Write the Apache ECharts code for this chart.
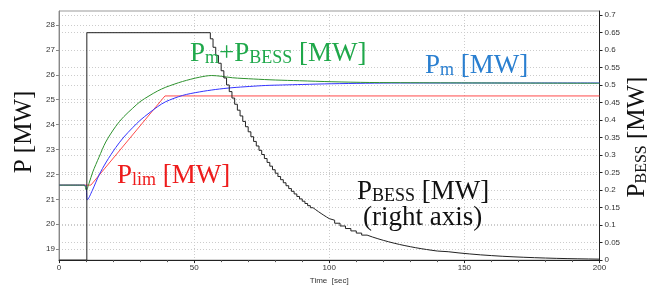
<!DOCTYPE html>
<html>
<head>
<meta charset="utf-8">
<script src="https://cdn.jsdelivr.net/npm/echarts@6/dist/echarts.min.js"></script>
<style>
  html, body { margin: 0; padding: 0; background: #fff; }
  #chart { width: 647px; height: 290px; }
</style>
</head>
<body>
<div id="chart"></div>
<script>
// values: [time s, value]
const pLim = [[0, 21.57], [11.8, 21.57], [39.2, 25.15], [200, 25.15]];

const pM = [
  [0, 21.57], [9.6, 21.57], [10.5, 20.98], [12.3, 21.35], [14.8, 21.97], [17.5, 22.5],
  [21, 23.08], [24, 23.5], [27.2, 23.87], [30, 24.17], [33.3, 24.46], [36.5, 24.72],
  [39.5, 24.92], [45.7, 25.17], [51.9, 25.31], [58, 25.41], [64, 25.48], [70.4, 25.53],
  [76.5, 25.57], [82.7, 25.59], [90, 25.61], [101, 25.64], [126, 25.67], [150, 25.67], [200, 25.67]
];

const pTotal = [
  [0, 21.57], [9.3, 21.57], [10.1, 21.37], [11.1, 21.64], [12.5, 22.1], [14.8, 22.69],
  [17.3, 23.3], [21, 23.93], [24, 24.32], [27.2, 24.65], [30, 24.92], [33.3, 25.15],
  [36.5, 25.35], [39.5, 25.5], [45.7, 25.73], [51.9, 25.9], [56.5, 25.97], [60, 25.94],
  [64.2, 25.88], [72, 25.83], [80, 25.79], [89, 25.76], [101, 25.72], [115, 25.69],
  [130, 25.68], [160, 25.67], [200, 25.66]
];

// battery power, right axis (stair steps)
const pBessT = [
  0, 10.3, 56, 57, 58, 59, 60, 61, 62, 63, 64, 65, 66, 67, 68, 69, 70, 71, 72, 73, 74, 75,
  76, 77, 78, 79, 80, 81, 82, 83, 84, 85, 86, 87, 88, 89, 90, 91, 92, 93, 94, 95, 96, 97,
  98, 99, 100, 102, 104, 106, 108, 110, 112, 114, 116, 118, 120, 122, 124, 126, 128, 130,
  132, 134, 136, 138, 140, 144, 148, 152, 156, 160, 164, 168, 172, 176, 180, 184, 188,
  192, 196, 200
];
const pBessV = [
  0, 0.65, 0.6325, 0.6083, 0.5851, 0.5627, 0.5412, 0.5206, 0.5007, 0.4816, 0.4632, 0.4455,
  0.4285, 0.4121, 0.3964, 0.3812, 0.3667, 0.3527, 0.3392, 0.3262, 0.3138, 0.3018, 0.2903,
  0.2792, 0.2685, 0.2583, 0.2484, 0.2389, 0.2298, 0.221, 0.2126, 0.2044, 0.1966, 0.1891,
  0.1819, 0.1749, 0.1683, 0.1618, 0.1556, 0.1497, 0.144, 0.1385, 0.1332, 0.1281, 0.1232,
  0.1185, 0.114, 0.1054, 0.0975, 0.0902, 0.0834, 0.0772, 0.0714, 0.066, 0.0611, 0.0565,
  0.0523, 0.0483, 0.0447, 0.0414, 0.0383, 0.0354, 0.0327, 0.0303, 0.028, 0.0259, 0.024,
  0.0205, 0.0176, 0.015, 0.0129, 0.011, 0.0094, 0.0081, 0.0069, 0.0059, 0.005, 0.0043,
  0.0037, 0.0032, 0.0027, 0.0023
];

const serif = '"Liberation Serif", "Times New Roman", serif';
const tickFont = { fontFamily: '"Liberation Sans", Arial, sans-serif', fontSize: 8, color: '#333' };

const chart = echarts.init(document.getElementById('chart'), null, { renderer: 'canvas' });

// rich text helpers for P with subscript
const rich = (color, size) => ({
  p: { fontFamily: serif, fontSize: size, color: color, lineHeight: size + 4, verticalAlign: 'bottom' },
  s: { fontFamily: serif, fontSize: Math.round(size * 0.65), color: color, lineHeight: 12, verticalAlign: 'bottom' }
});

const label = (x, y, text, color, size, rotation) => ({
  type: 'text',
  x: x,
  y: y,
  rotation: rotation || 0,
  z: 100,
  style: {
    text: text,
    fill: color,
    rich: rich(color, size),
    align: rotation ? 'center' : 'left',
    verticalAlign: rotation ? 'middle' : 'top'
  }
});

const option = {
  animation: false,
  grid: {
    left: 59, right: 47.5, top: 11, bottom: 25,
    show: true, borderColor: '#999', borderWidth: 1
  },
  xAxis: {
    type: 'value', min: 0, max: 200, interval: 50,
    name: 'Time  [sec]', nameLocation: 'middle', nameGap: 12,
    nameTextStyle: tickFont,
    axisLine: { lineStyle: { color: '#222' } },
    axisTick: { length: 3, lineStyle: { color: '#222' } },
    minorTick: { show: true, splitNumber: 5, length: 2, lineStyle: { color: '#555' } },
    axisLabel: Object.assign({ margin: 4 }, tickFont),
    splitLine: { lineStyle: { color: '#ccc', type: [1, 2] } }
  },
  yAxis: [
    {
      type: 'value', min: 18.56, max: 28.56, splitNumber: 10,
      axisLine: { show: true, lineStyle: { color: '#888' } },
      axisTick: { show: true, length: 3, lineStyle: { color: '#888' } },
      axisLabel: Object.assign({ margin: 4, showMinLabel: false, showMaxLabel: false }, tickFont),
      splitLine: { lineStyle: { color: '#ccc', type: [1, 2] } }
    },
    {
      type: 'value', min: 0, max: 0.712, interval: 0.05, position: 'right',
      axisLine: { show: true, lineStyle: { color: '#222' } },
      axisTick: { show: true, length: 3, lineStyle: { color: '#222' } },
      axisLabel: Object.assign({ margin: 5, showMaxLabel: false }, tickFont),
      splitLine: { show: true, lineStyle: { color: '#ccc', type: [1, 2] } }
    }
  ],
  series: [
    {
      name: 'Plim', type: 'line', data: pLim, showSymbol: false,
      lineStyle: { color: '#ff4a4a', width: 1 }
    },
    {
      name: 'Pm', type: 'line', data: pM, showSymbol: false, smooth: 0.3,
      lineStyle: { color: '#3333ff', width: 1 }
    },
    {
      name: 'Pm+PBESS', type: 'line', data: pTotal, showSymbol: false, smooth: 0.3,
      lineStyle: { color: '#2e922e', width: 1 }
    },
    {
      name: 'PBESS', type: 'line', yAxisIndex: 1, step: 'end', showSymbol: false,
      data: pBessT.map((t, i) => [t, pBessV[i]]),
      lineStyle: { color: '#222', width: 1 }
    }
  ],
  graphic: [
    label(190, 36, '{p|P}{s|m}{p|+P}{s|BESS}{p| [MW]}', '#1fa84a', 27),
    label(425, 48, '{p|P}{s|m}{p| [MW]}', '#2a7fd0', 27),
    label(117, 158, '{p|P}{s|lim}{p| [MW]}', '#ee1c1c', 27),
    label(357, 174, '{p|P}{s|BESS}{p| [MW]}', '#111', 27),
    {
      type: 'text', x: 363, y: 204, z: 100,
      style: { text: '(right axis)', fill: '#111', font: '27px ' + serif }
    },
    label(22, 132, '{p|P [MW]}', '#111', 25, Math.PI / 2),
    label(635, 137, '{p|P}{s|BESS}{p| [MW]}', '#111', 25, Math.PI / 2)
  ]
};

chart.setOption(option);
</script>
</body>
</html>
